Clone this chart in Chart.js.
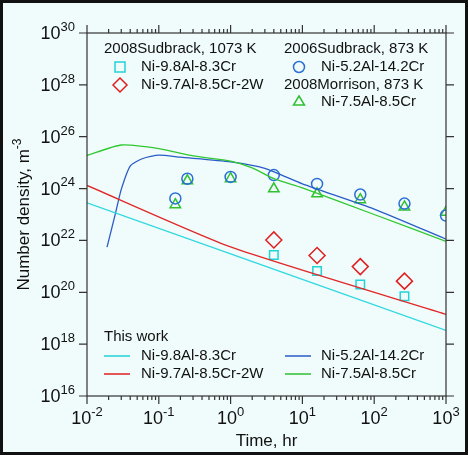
<!DOCTYPE html>
<html>
<head>
<meta charset="utf-8">
<script src="https://cdn.jsdelivr.net/npm/chart.js@4"></script>
<style>
  html, body { margin: 0; padding: 0; background: #f0fbfb; }
  #wrap { width: 462px; height: 449px; border: 3px solid #111; }
</style>
</head>
<body>
<div id="wrap"><canvas id="nChart" width="462" height="449"></canvas></div>
<script>
// measured points (time in hr, log10 of number density)
const timeHr = [0.17, 0.25, 1, 4, 16, 64, 264, 1000];
const circleLog = [23.62, 24.38, 24.45, 24.52, 24.18, 23.77, 23.42, 22.96];
const triangleLog = [23.38, 24.3, 24.38, 23.99, 23.8, 23.57, 23.29, 23.09];
const expTimeW = [4, 16, 64, 264];
const squareLog = [21.44, 20.82, 20.3, 19.85];
const diamondLog = [22.02, 21.42, 20.99, 20.43];

// model curves
const cyanT = [0.01, 1000];
const cyanLog = [23.45, 18.53];
const redT = [0.01, 1, 1000];
const redLog = [24.12, 21.75, 19.15];
const greenT = [0.01, 0.03, 0.1, 0.3, 1, 2, 4, 10, 100, 1000];
const greenLog = [25.28, 25.68, 25.54, 25.26, 25.06, 24.8, 24.38, 24.03, 23.0, 21.96];
const blueT = [0.019, 0.025, 0.03, 0.04, 0.06, 0.1, 0.2, 1, 3, 10, 100, 1000];
const blueLog = [21.74, 23.06, 23.97, 24.87, 25.16, 25.29, 25.21, 25.03, 24.78, 24.18, 23.21, 22.05];

const yTickExp = [16, 18, 20, 22, 24, 26, 28, 30];
const xTickExp = [-2, -1, 0, 1, 2, 3];

function pts(xs, ls) { return xs.map((x, i) => ({ x: x, y: Math.pow(10, ls[i]) })); }

function lineSet(xs, ls, color) {
  return { type: 'line', data: pts(xs, ls), borderColor: color, borderWidth: 1.3,
           pointRadius: 0, tension: 0.2, fill: false };
}
function markSet(xs, ls, color, style, r) {
  return { type: 'scatter', data: pts(xs, ls), borderColor: color, backgroundColor: 'rgba(0,0,0,0)',
           borderWidth: 1.5, pointStyle: style, pointRadius: r, pointRotation: 0 };
}

const FONT = '"Liberation Sans", Arial, sans-serif';

function sup(ctx, x, y, base, exp, size, align) {
  ctx.font = size + 'px ' + FONT;
  const bw = ctx.measureText(base).width;
  ctx.font = Math.round(size * 0.7) + 'px ' + FONT;
  const ew = ctx.measureText(exp).width;
  let x0 = x;
  if (align === 'right') x0 = x - bw - ew;
  if (align === 'center') x0 = x - (bw + ew) / 2;
  ctx.textAlign = 'left';
  ctx.textBaseline = 'alphabetic';
  ctx.font = size + 'px ' + FONT;
  ctx.fillText(base, x0, y);
  ctx.font = Math.round(size * 0.7) + 'px ' + FONT;
  ctx.fillText(exp, x0 + bw, y - size * 0.45);
}

const decor = {
  id: 'decor',
  afterDraw(chart) {
    const ctx = chart.ctx;
    const a = chart.chartArea;
    const xs = chart.scales.x, ys = chart.scales.y;
    ctx.save();
    ctx.strokeStyle = '#333';
    ctx.fillStyle = '#111';
    ctx.lineWidth = 1.2;
    ctx.strokeRect(a.left, a.top, a.right - a.left, a.bottom - a.top);
    ctx.beginPath();
    // x ticks
    for (let e = -2; e <= 3; e++) {
      const px = xs.getPixelForValue(Math.pow(10, e));
      ctx.moveTo(px, a.bottom); ctx.lineTo(px, a.bottom + 8);
      ctx.moveTo(px, a.top); ctx.lineTo(px, a.top - 8);
      if (e < 3) {
        for (let m = 2; m <= 9; m++) {
          const q = xs.getPixelForValue(m * Math.pow(10, e));
          ctx.moveTo(q, a.bottom); ctx.lineTo(q, a.bottom + 4);
          ctx.moveTo(q, a.top); ctx.lineTo(q, a.top - 4);
        }
      }
    }
    // y ticks
    yTickExp.forEach(e => {
      const py = ys.getPixelForValue(Math.pow(10, e));
      ctx.moveTo(a.left, py); ctx.lineTo(a.left - 8, py);
      ctx.moveTo(a.right, py); ctx.lineTo(a.right + 8, py);
    });
    ctx.stroke();

    // tick labels
    xTickExp.forEach(e => {
      const px = xs.getPixelForValue(Math.pow(10, e));
      sup(ctx, px, a.bottom + 28, '10', String(e), 18, 'center');
    });
    yTickExp.forEach(e => {
      const py = ys.getPixelForValue(Math.pow(10, e));
      sup(ctx, a.left - 12, py + 6, '10', String(e), 18, 'right');
    });

    // axis titles
    ctx.font = '17px ' + FONT;
    ctx.textAlign = 'center';
    ctx.fillText('Time, hr', (a.left + a.right) / 2, a.bottom + 50);
    ctx.save();
    ctx.translate(26, (a.top + a.bottom) / 2);
    ctx.rotate(-Math.PI / 2);
    ctx.font = '17px ' + FONT;
    const t1 = 'Number density, m';
    const w1 = ctx.measureText(t1).width;
    ctx.font = '12px ' + FONT;
    const w2 = ctx.measureText('-3').width;
    sup(ctx, -(w1 + w2) / 2, 0, t1, '-3', 17, 'left');
    ctx.restore();

    // legends
    ctx.font = '15px ' + FONT;
    ctx.textAlign = 'left';
    ctx.textBaseline = 'middle';
    ctx.fillStyle = '#111';
    ctx.fillText('2008Sudbrack, 1073 K', 101, 46);
    ctx.fillText('Ni-9.8Al-8.3Cr', 138, 64);
    ctx.fillText('Ni-9.7Al-8.5Cr-2W', 138, 82);
    ctx.fillText('2006Sudbrack, 873 K', 281, 46);
    ctx.fillText('Ni-5.2Al-14.2Cr', 318, 64);
    ctx.fillText('2008Morrison, 873 K', 281, 82);
    ctx.fillText('Ni-7.5Al-8.5Cr', 318, 99);
    ctx.fillText('This work', 101, 334);
    ctx.fillText('Ni-9.8Al-8.3Cr', 138, 353);
    ctx.fillText('Ni-9.7Al-8.5Cr-2W', 138, 371);
    ctx.fillText('Ni-5.2Al-14.2Cr', 318, 353);
    ctx.fillText('Ni-7.5Al-8.5Cr', 318, 371);

    ctx.lineWidth = 1.5;
    ctx.strokeStyle = '#22d3d8'; ctx.strokeRect(112, 59, 10, 10);
    ctx.strokeStyle = '#e02020'; ctx.beginPath();
    ctx.moveTo(117, 75); ctx.lineTo(124, 82); ctx.lineTo(117, 89); ctx.lineTo(110, 82); ctx.closePath(); ctx.stroke();
    ctx.strokeStyle = '#2a6fd8'; ctx.beginPath(); ctx.arc(296, 64, 5.5, 0, Math.PI * 2); ctx.stroke();
    ctx.strokeStyle = '#30c030'; ctx.beginPath();
    ctx.moveTo(296, 93); ctx.lineTo(301.5, 102); ctx.lineTo(290.5, 102); ctx.closePath(); ctx.stroke();

    [['#22d3d8', 101, 353], ['#e02020', 101, 371], ['#2a5cc8', 282, 353], ['#30c030', 282, 371]].forEach(l => {
      ctx.strokeStyle = l[0]; ctx.beginPath(); ctx.moveTo(l[1], l[2]); ctx.lineTo(l[1] + 26, l[2]); ctx.stroke();
    });
    ctx.restore();
  }
};

new Chart(document.getElementById('nChart'), {
  data: {
    datasets: [
      lineSet(cyanT, cyanLog, '#2fd8e0'),
      lineSet(redT, redLog, '#e02828'),
      lineSet(greenT, greenLog, '#30c830'),
      lineSet(blueT, blueLog, '#2a5cc8'),
      markSet(expTimeW, squareLog, '#22d3d8', 'rect', 6),
      markSet(expTimeW, diamondLog, '#e02020', 'rectRot', 8),
      markSet(timeHr, circleLog, '#2a6fd8', 'circle', 5.5),
      markSet(timeHr, triangleLog, '#30c030', 'triangle', 6)
    ]
  },
  options: {
    responsive: false,
    animation: false,
    layout: { padding: { left: 84, top: 30, right: 19, bottom: 56 } },
    plugins: { legend: { display: false }, tooltip: { enabled: false } },
    scales: {
      x: { type: 'logarithmic', min: 0.01, max: 1000,
           ticks: { display: false }, grid: { display: false, drawTicks: false }, border: { display: false } },
      y: { type: 'logarithmic', min: 1e16, max: 1e30,
           ticks: { display: false }, grid: { display: false, drawTicks: false }, border: { display: false } }
    }
  },
  plugins: [decor]
});
</script>
</body>
</html>
